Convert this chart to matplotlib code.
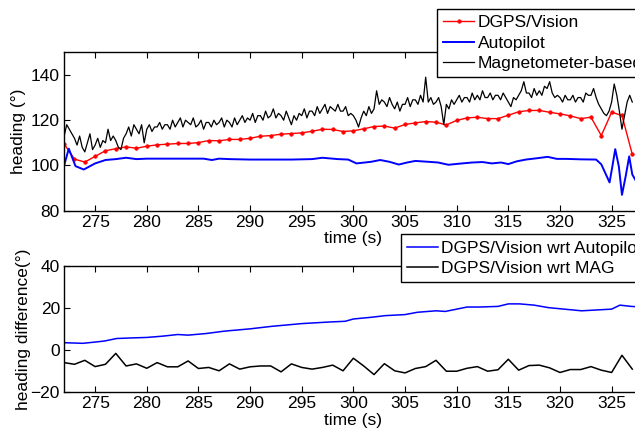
import matplotlib
matplotlib.use("Agg")
import matplotlib.pyplot as plt
import numpy as np

plt.rcParams['font.family'] = ['Liberation Sans', 'DejaVu Sans']
plt.rcParams['font.size'] = 12.5

# DGPS/Vision heading, one point per second (272..327 s)
dgps_t = np.arange(272, 328)
dgps = [109.5, 102.8, 101.5, 104.0, 106.5, 107.4, 108.2, 107.6, 108.5, 109.1,
        109.4, 109.7, 109.7, 110.1, 111.0, 110.9, 111.5, 111.5, 112.0, 112.9,
        113.2, 113.8, 114.1, 114.4, 115.1, 116.0, 115.9, 115.0, 115.3, 116.2,
        117.2, 117.4, 116.5, 118.1, 118.8, 119.4, 119.1, 117.9, 119.9, 121.0,
        121.3, 120.7, 120.7, 122.2, 123.7, 124.3, 124.3, 123.5, 122.8, 121.9,
        120.7, 121.3, 113.2, 123.5, 122.1, 104.9]

# autopilot heading (smooth curve)
auto_t = [272.0, 272.45, 273.1, 273.9, 275.0, 276.0, 277.0, 278.0, 279.0, 280.0,
          282.0, 284.0, 285.5, 286.3, 287.0, 288.0, 290.0, 292.0, 294.0, 296.0,
          297.0, 298.5, 299.5, 300.3, 301.7, 302.6, 303.5, 304.4, 305.2, 306.0,
          307.3, 308.2, 309.2, 310.3, 311.5, 312.5, 313.4, 314.3, 315.0, 315.8,
          316.7, 317.8, 318.8, 319.7, 320.6, 322.0, 323.5, 324.0, 324.4, 324.8,
          325.05, 325.35, 325.7, 326.0, 326.35, 326.7, 327.0, 327.5]
auto = [100.0, 107.4, 99.7, 98.2, 100.9, 102.4, 102.8, 103.4, 102.8, 103.0,
        103.0, 103.0, 103.0, 102.4, 103.0, 102.8, 102.6, 102.6, 102.6, 102.8,
        103.4, 102.8, 102.6, 100.9, 101.6, 102.4, 101.6, 100.4, 101.3, 102.0,
        101.6, 101.3, 100.3, 100.8, 101.3, 101.5, 100.9, 101.3, 100.6, 101.8,
        102.6, 103.2, 103.8, 102.9, 102.9, 102.7, 102.6, 100.5, 96.5, 92.5,
        99.0, 107.2, 99.5, 87.0, 95.0, 104.0, 96.0, 92.0]

# magnetometer heading, 4 samples per second
mag_t = np.arange(272, 327.01, 0.25)
mag = [113, 118, 116, 114,  112, 109, 113, 108,  106, 110, 114, 107,
       109, 112, 108, 111,  110, 116, 111, 113,  111, 108, 107, 112,
       114, 117, 113, 118,  116, 114, 118, 110,  116, 118, 115, 117,
       117, 119, 116, 118,  118, 116, 120, 117,  119, 121, 117, 120,
       119, 118, 121, 117,  118, 120, 116, 119,  119, 117, 120, 118,
       119, 121, 117, 120,  119, 117, 121, 118,  120, 122, 119, 121,
       120, 123, 119, 122,  122, 120, 124, 121,  122, 125, 121, 123,
       122, 120, 124, 121,  118, 122, 120, 123,  122, 125, 121, 124,
       124, 122, 126, 123,  125, 127, 123, 126,  125, 124, 127, 124,
       124, 126, 122, 123,  122, 120, 117, 121,  124, 122, 126, 123,
       125, 133, 127, 129,  128, 126, 130, 127,  125, 128, 124, 127,
       127, 130, 126, 129,  129, 127, 131, 128,  139, 128, 130, 127,
       128, 130, 126, 118,  127, 125, 129, 127,  129, 131, 128, 130,
       130, 128, 132, 129,  131, 129, 133, 130,  130, 132, 129, 131,
       131, 129, 132, 130,  128, 126, 130, 129,  131, 133, 137, 132,
       132, 130, 134, 131,  133, 131, 135, 134,  137, 132, 130, 131,
       130, 128, 131, 129,  129, 131, 128, 130,  130, 128, 132, 131,
       131, 134, 130, 127,  125, 123, 122, 124,  128, 136, 131, 124,
       116, 122, 128, 131,  128]

# heading differences
dauto_t = [272, 273.8, 275, 275.9, 277.1, 278.7, 280, 281.5, 283, 284,
           285.8, 287.5, 290, 292.1, 295, 297.8, 299.2, 300, 301.7, 303.1,
           305, 306.2, 308, 308.9, 310, 311, 312.2, 314, 315, 316.1,
           317.5, 318.9, 320.4, 322.1, 323.9, 325, 325.8, 326.9, 328]
dauto = [3.5, 3.2, 3.8, 4.3, 5.5, 5.8, 6.0, 6.6, 7.4, 7.1,
         7.9, 9.0, 10.1, 11.3, 12.6, 13.4, 13.7, 14.8, 15.6, 16.4,
         16.9, 18.0, 18.7, 18.4, 19.5, 20.5, 20.5, 20.8, 22.0, 22.0,
         21.4, 20.2, 19.5, 18.7, 19.2, 19.5, 21.4, 20.8, 20.5]
dmag = [-6, -6.8, -4.9, -7.9, -6.8, -1.6, -7.6, -6.6, -8.7, -6,
        -8, -8, -5.2, -8.8, -8.3, -9.9, -6.6, -9.1, -8, -7.6,
        -7.6, -10.4, -6.6, -8.3, -9.1, -8.3, -7.2, -9.9, -3.9, -7.6,
        -11.7, -6.5, -9.9, -10.9, -8.8, -7.9, -4.9, -10.1, -10.1, -8.7,
        -7.9, -10.1, -9.4, -4.4, -9.6, -7.4, -7.2, -8.5, -10.7, -9.3,
        -9.3, -7.9, -9.6, -10.7, -2.5, -9.1]

xt = np.arange(275, 330, 5)

fig = plt.figure(figsize=(6.35, 4.34), dpi=100)
ax1 = fig.add_axes([0.101, 0.5145, 0.911, 0.365])
ax2 = fig.add_axes([0.101, 0.0968, 0.911, 0.290])

l1, = ax1.plot(dgps_t, dgps, color='red', lw=1, marker='o', ms=2.6, mew=0.4,
               label='DGPS/Vision')
l2, = ax1.plot(auto_t, auto, color='blue', lw=1.4, label='Autopilot')
l3, = ax1.plot(mag_t, mag, color='black', lw=0.9, label='Magnetometer-based')
ax1.set_ylim(80, 150)
ax1.set_yticks([80, 100, 120, 140])
ax1.set_ylabel('heading (°)')
ax1.yaxis.set_label_coords(-0.066, 0.5)

ax2.plot(dauto_t, dauto, color='blue', lw=1.1, label='DGPS/Vision wrt Autopilot')
ax2.plot(dgps_t, dmag, color='black', lw=1.1, label='DGPS/Vision wrt MAG')
ax2.set_ylim(-20, 40)
ax2.set_yticks([-20, 0, 20, 40])
ax2.set_ylabel('heading difference(°)')
ax2.yaxis.set_label_coords(-0.058, 0.5)

for ax in (ax1, ax2):
    ax.set_xlim(272, 328)
    ax.set_xticks(xt)
    ax.set_xlabel('time (s)', labelpad=1)
    ax.tick_params(direction='in', top=True, right=True, length=4, width=0.8, pad=3)
    for s in ax.spines.values():
        s.set_linewidth(1.0)

leg_kw = dict(loc='upper left', fancybox=False, framealpha=1, edgecolor='black',
              handlelength=1.8, handletextpad=0.2, labelspacing=0.3, borderpad=0.35,
              borderaxespad=0)
lg1 = fig.legend(handles=[l1, l2, l3], bbox_to_anchor=(0.688, 0.979), **leg_kw)
lg2 = ax2.legend(bbox_to_anchor=(0.631, 0.46), bbox_transform=fig.transFigure, **leg_kw)
for lg in (lg1, lg2):
    lg.get_frame().set_linewidth(1.0)

fig.savefig('out.png', dpi=100)
